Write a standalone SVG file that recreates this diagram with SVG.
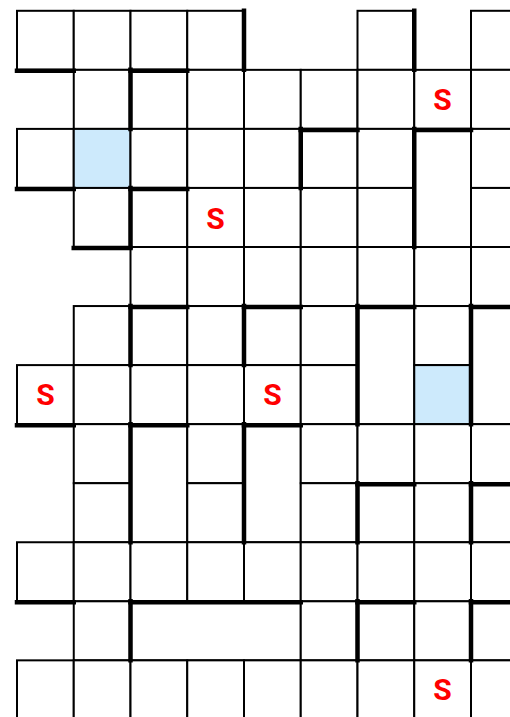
<svg xmlns="http://www.w3.org/2000/svg" width="510" height="717" viewBox="0 0 510 717">
<style>
.c{fill:#ffffff;stroke:#000;stroke-width:2}
.b{fill:#cdeafc;stroke:#000;stroke-width:2}
.w{fill:none;stroke:#000;stroke-width:4.5;stroke-linecap:square}
.s{font-family:Roboto,"Liberation Sans",sans-serif;font-weight:bold;font-size:30px;fill:#ff0000;text-anchor:middle}
</style>
<rect x="0" y="0" width="510" height="717" fill="#ffffff"/>
<g id="row0">
<rect class="c" x="17" y="10.8" width="56.75" height="59.05"/>
<rect class="c" x="73.75" y="10.8" width="56.75" height="59.05"/>
<rect class="c" x="130.5" y="10.8" width="56.75" height="59.05"/>
<rect class="c" x="187.25" y="10.8" width="56.75" height="59.05"/>
<rect class="c" x="357.5" y="10.8" width="56.75" height="59.05"/>
<rect class="c" x="471" y="10.8" width="56.75" height="59.05"/>
</g>
<g id="row1">
<rect class="c" x="73.75" y="69.85" width="56.75" height="59.05"/>
<rect class="c" x="130.5" y="69.85" width="56.75" height="59.05"/>
<rect class="c" x="187.25" y="69.85" width="56.75" height="59.05"/>
<rect class="c" x="244" y="69.85" width="56.75" height="59.05"/>
<rect class="c" x="300.75" y="69.85" width="56.75" height="59.05"/>
<rect class="c" x="357.5" y="69.85" width="56.75" height="59.05"/>
<rect class="c" x="414.25" y="69.85" width="56.75" height="59.05"/>
<rect class="c" x="471" y="69.85" width="56.75" height="59.05"/>
</g>
<g id="row2">
<rect class="c" x="17" y="128.9" width="56.75" height="59.05"/>
<rect class="b" x="73.75" y="128.9" width="56.75" height="59.05"/>
<rect class="c" x="130.5" y="128.9" width="56.75" height="59.05"/>
<rect class="c" x="187.25" y="128.9" width="56.75" height="59.05"/>
<rect class="c" x="244" y="128.9" width="56.75" height="59.05"/>
<rect class="c" x="300.75" y="128.9" width="56.75" height="59.05"/>
<rect class="c" x="357.5" y="128.9" width="56.75" height="59.05"/>
<rect class="c" x="414.25" y="128.9" width="56.75" height="118.1"/>
<rect class="c" x="471" y="128.9" width="56.75" height="59.05"/>
</g>
<g id="row3">
<rect class="c" x="73.75" y="187.95" width="56.75" height="59.05"/>
<rect class="c" x="130.5" y="187.95" width="56.75" height="59.05"/>
<rect class="c" x="187.25" y="187.95" width="56.75" height="59.05"/>
<rect class="c" x="244" y="187.95" width="56.75" height="59.05"/>
<rect class="c" x="300.75" y="187.95" width="56.75" height="59.05"/>
<rect class="c" x="357.5" y="187.95" width="56.75" height="59.05"/>
<rect class="c" x="471" y="187.95" width="56.75" height="59.05"/>
</g>
<g id="row4">
<rect class="c" x="130.5" y="247" width="56.75" height="59.05"/>
<rect class="c" x="187.25" y="247" width="56.75" height="59.05"/>
<rect class="c" x="244" y="247" width="56.75" height="59.05"/>
<rect class="c" x="300.75" y="247" width="56.75" height="59.05"/>
<rect class="c" x="357.5" y="247" width="56.75" height="59.05"/>
<rect class="c" x="414.25" y="247" width="56.75" height="59.05"/>
<rect class="c" x="471" y="247" width="56.75" height="59.05"/>
</g>
<g id="row5">
<rect class="c" x="73.75" y="306.05" width="56.75" height="59.05"/>
<rect class="c" x="130.5" y="306.05" width="56.75" height="59.05"/>
<rect class="c" x="187.25" y="306.05" width="56.75" height="59.05"/>
<rect class="c" x="244" y="306.05" width="56.75" height="59.05"/>
<rect class="c" x="300.75" y="306.05" width="56.75" height="59.05"/>
<rect class="c" x="357.5" y="306.05" width="56.75" height="118.1"/>
<rect class="c" x="414.25" y="306.05" width="56.75" height="59.05"/>
<rect class="c" x="471" y="306.05" width="56.75" height="118.1"/>
</g>
<g id="row6">
<rect class="c" x="17" y="365.1" width="56.75" height="59.05"/>
<rect class="c" x="73.75" y="365.1" width="56.75" height="59.05"/>
<rect class="c" x="130.5" y="365.1" width="56.75" height="59.05"/>
<rect class="c" x="187.25" y="365.1" width="56.75" height="59.05"/>
<rect class="c" x="244" y="365.1" width="56.75" height="59.05"/>
<rect class="c" x="300.75" y="365.1" width="56.75" height="59.05"/>
<rect class="b" x="414.25" y="365.1" width="56.75" height="59.05"/>
</g>
<g id="row7">
<rect class="c" x="73.75" y="424.15" width="56.75" height="59.05"/>
<rect class="c" x="130.5" y="424.15" width="56.75" height="118.1"/>
<rect class="c" x="187.25" y="424.15" width="56.75" height="59.05"/>
<rect class="c" x="244" y="424.15" width="56.75" height="118.1"/>
<rect class="c" x="300.75" y="424.15" width="56.75" height="59.05"/>
<rect class="c" x="357.5" y="424.15" width="56.75" height="59.05"/>
<rect class="c" x="414.25" y="424.15" width="56.75" height="59.05"/>
<rect class="c" x="471" y="424.15" width="56.75" height="59.05"/>
</g>
<g id="row8">
<rect class="c" x="73.75" y="483.2" width="56.75" height="59.05"/>
<rect class="c" x="187.25" y="483.2" width="56.75" height="59.05"/>
<rect class="c" x="300.75" y="483.2" width="56.75" height="59.05"/>
<rect class="c" x="357.5" y="483.2" width="56.75" height="59.05"/>
<rect class="c" x="414.25" y="483.2" width="56.75" height="59.05"/>
<rect class="c" x="471" y="483.2" width="56.75" height="59.05"/>
</g>
<g id="row9">
<rect class="c" x="17" y="542.25" width="56.75" height="59.05"/>
<rect class="c" x="73.75" y="542.25" width="56.75" height="59.05"/>
<rect class="c" x="130.5" y="542.25" width="56.75" height="59.05"/>
<rect class="c" x="187.25" y="542.25" width="56.75" height="59.05"/>
<rect class="c" x="244" y="542.25" width="56.75" height="59.05"/>
<rect class="c" x="300.75" y="542.25" width="56.75" height="59.05"/>
<rect class="c" x="357.5" y="542.25" width="56.75" height="59.05"/>
<rect class="c" x="414.25" y="542.25" width="56.75" height="59.05"/>
<rect class="c" x="471" y="542.25" width="56.75" height="59.05"/>
</g>
<g id="row10">
<rect class="c" x="73.75" y="601.3" width="56.75" height="59.05"/>
<rect class="c" x="130.5" y="601.3" width="170.25" height="59.05"/>
<rect class="c" x="300.75" y="601.3" width="56.75" height="59.05"/>
<rect class="c" x="357.5" y="601.3" width="56.75" height="59.05"/>
<rect class="c" x="414.25" y="601.3" width="56.75" height="59.05"/>
<rect class="c" x="471" y="601.3" width="56.75" height="59.05"/>
</g>
<g id="row11">
<rect class="c" x="17" y="660.35" width="56.75" height="59.05"/>
<rect class="c" x="73.75" y="660.35" width="56.75" height="59.05"/>
<rect class="c" x="130.5" y="660.35" width="56.75" height="59.05"/>
<rect class="c" x="187.25" y="660.35" width="56.75" height="59.05"/>
<rect class="c" x="244" y="660.35" width="56.75" height="59.05"/>
<rect class="c" x="300.75" y="660.35" width="56.75" height="59.05"/>
<rect class="c" x="357.5" y="660.35" width="56.75" height="59.05"/>
<rect class="c" x="414.25" y="660.35" width="56.75" height="59.05"/>
<rect class="c" x="471" y="660.35" width="56.75" height="59.05"/>
</g>
<g id="walls">
<path class="w" d="M17 70.85H73.75M130.5 70.85H187.25
M300.75 129.9H357.5M414.25 129.9H471
M17 188.95H73.75M130.5 188.95H187.25
M73.75 248H130.5
M130.5 307.05H187.25M244 307.05H300.75M357.5 307.05H414.25M471 307.05H527.75
M17 425.15H73.75M130.5 425.15H187.25M244 425.15H300.75
M357.5 484.2H414.25M471 484.2H527.75
M17 602.3H73.75M130.5 602.3H300.75M357.5 602.3H414.25M471 602.3H527.75"/>
<path class="w" d="M244 10.8V69.85M414.25 10.8V69.85
M130.5 69.85V128.9
M300.75 128.9V187.95
M414.25 128.9V247
M130.5 187.95V247
M130.5 306.05V365.1M244 306.05V365.1
M357.5 306.05V424.15M471 306.05V424.15
M130.5 424.15V542.25M244 424.15V542.25
M357.5 483.2V542.25M471 483.2V542.25
M130.5 601.3V660.35M357.5 601.3V660.35M471 601.3V660.35"/>
</g>
<g id="marks">
<text class="s" x="442.6" y="110">S</text>
<text class="s" x="215.6" y="228.5">S</text>
<text class="s" x="45.4" y="405">S</text>
<text class="s" x="272.4" y="405">S</text>
<text class="s" x="442.6" y="700">S</text>
</g>
</svg>
